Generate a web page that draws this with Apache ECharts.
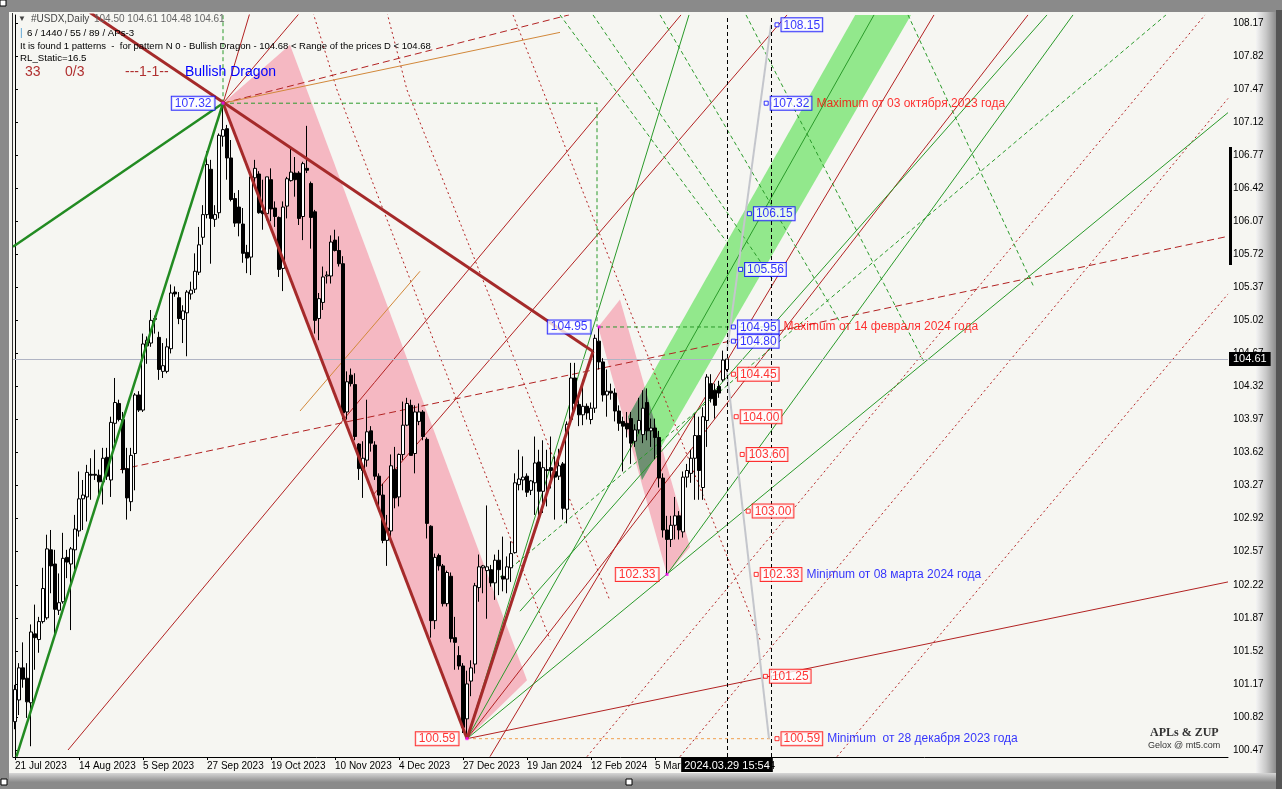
<!DOCTYPE html>
<html><head><meta charset="utf-8">
<script src="https://cdn.jsdelivr.net/npm/echarts/dist/echarts.min.js"></script>
<style>html,body{margin:0;padding:0;background:#8a8a8a;overflow:hidden}#c{width:1282px;height:789px}</style>
</head><body><div id="c"></div><script>
// ---------- DATA ----------
const tickBars = [0,16,32,48,64,80,96,112,128,144,160,176];
const tickLabels = ['21 Jul 2023','14 Aug 2023','5 Sep 2023','27 Sep 2023','19 Oct 2023','10 Nov 2023','4 Dec 2023','27 Dec 2023','19 Jan 2024','12 Feb 2024','5 Mar 2024','27 Mar 2024'];
const priceTicks = [100.47,100.82,101.17,101.52,101.87,102.22,102.57,102.92,103.27,103.62,103.97,104.32,104.67,105.02,105.37,105.72,106.07,106.42,106.77,107.12,107.47,107.82,108.17];
// [open, close, low, high] per daily bar
const ohlc = [
[100.77,101.11,100.69,101.16],[101.00,101.34,100.84,101.39],[101.34,101.22,101.13,101.61],[101.23,100.98,100.81,101.39],
[100.97,101.72,100.51,101.80],[101.70,101.66,101.32,102.01],[101.64,101.83,101.50,101.88],[101.83,102.18,101.81,102.40],
[101.87,102.60,101.85,102.75],[102.59,102.42,102.13,102.80],[102.44,101.96,101.69,102.59],[101.95,102.03,101.90,102.34],
[102.04,102.50,102.02,102.77],[102.51,102.46,102.29,102.59],[102.44,102.60,101.74,102.62],[102.59,102.81,102.38,102.96],
[102.79,103.13,102.73,103.42],[103.13,103.17,102.80,103.33],[103.15,103.41,102.89,103.49],[103.39,103.38,103.12,103.56],
[103.39,103.38,103.33,103.65],[103.38,103.31,103.15,103.44],[103.31,103.56,103.07,103.67],[103.57,103.37,103.33,103.67],
[103.33,103.94,103.15,104.00],[103.93,104.15,103.72,104.41],[104.14,103.97,103.95,104.18],[103.97,103.44,103.40,104.05],
[103.45,103.14,102.91,103.67],[103.10,103.59,103.00,103.67],[103.61,104.23,103.22,104.25],[104.23,104.07,104.05,104.27],
[104.07,104.77,104.05,104.88],[104.75,104.81,104.56,104.85],[104.78,105.02,104.74,105.13],[105.03,105.04,104.88,105.07],
[104.84,104.50,104.39,104.90],[104.48,104.54,104.41,104.78],[104.48,104.74,104.46,104.83],[104.72,105.31,104.67,105.40],
[105.32,105.30,105.27,105.38],[105.26,105.04,104.98,105.32],[105.03,105.12,104.78,105.18],[105.10,105.32,104.64,105.34],
[105.30,105.34,105.24,105.43],[105.35,105.54,105.31,105.73],[105.53,105.82,105.50,106.01],[105.90,106.14,105.82,106.24],
[106.14,106.67,106.10,106.81],[106.62,106.10,105.62,106.72],[106.09,106.14,106.01,106.24],[106.16,106.98,106.10,107.00],
[106.97,107.04,106.86,107.32],[107.05,106.74,106.51,107.09],[106.74,106.30,106.28,106.93],[106.31,106.05,106.01,106.37],
[106.22,106.05,105.91,106.40],[106.04,105.73,105.63,106.21],[105.74,105.68,105.52,105.82],[105.69,106.54,105.50,106.56],
[106.53,106.63,106.46,106.72],[106.57,106.16,106.15,106.60],[106.18,106.15,105.98,106.51],[106.15,106.54,106.08,106.54],
[106.51,106.20,106.07,106.63],[106.21,106.12,106.01,106.28],[106.11,105.56,105.48,106.12],[105.57,106.22,105.33,106.28],
[106.23,106.52,106.10,106.54],[106.50,106.59,106.49,106.84],[106.58,106.51,106.33,106.75],[106.58,106.10,106.03,106.60],
[106.12,106.68,105.87,106.70],[106.63,106.61,106.58,107.08],[106.47,106.11,105.78,106.49],[106.17,105.02,104.88,106.19],
[105.04,105.25,104.81,105.31],[105.21,105.48,105.13,105.59],[105.49,105.50,105.41,105.54],[105.49,105.85,105.41,105.92],
[105.87,105.76,105.75,105.98],[105.76,105.62,105.59,105.91],[105.62,104.04,103.97,105.70],[104.05,104.37,103.97,104.48],
[104.44,104.35,104.32,104.51],[104.34,103.79,103.75,104.46],[103.71,103.45,103.33,103.72],[103.43,103.56,103.14,103.74],
[103.54,103.84,103.47,104.18],[103.85,103.72,103.63,103.90],[103.70,103.37,103.33,103.74],[103.37,103.17,103.05,103.40],
[103.17,102.69,102.66,103.29],[102.69,102.82,102.42,102.96],[102.79,103.48,102.69,103.60],[103.44,103.14,103.03,103.68],
[103.15,103.60,103.05,103.61],[103.60,103.91,103.54,104.16],[103.91,104.14,103.90,104.20],[104.12,103.59,103.59,104.18],
[103.61,104.05,103.40,104.12],[103.95,104.05,103.91,104.14],[104.05,103.79,103.75,104.07],[103.76,102.87,102.71,103.78],
[102.84,101.84,101.66,102.85],[101.84,102.51,101.75,102.55],[102.53,102.42,102.37,102.55],[102.42,102.02,101.99,102.44],
[102.02,102.35,101.99,102.37],[102.31,101.65,101.61,102.35],[101.66,101.61,101.32,101.88],[101.47,101.36,101.32,101.57],
[101.36,100.71,100.65,101.39],[100.80,101.17,100.59,101.31],[101.20,101.34,101.04,101.42],[101.38,102.21,101.28,102.24],
[102.19,102.41,102.04,102.54],[102.40,102.42,102.13,102.43],[102.37,102.41,101.86,103.06],[102.38,102.24,102.20,102.43],
[102.24,102.48,102.06,102.54],[102.48,102.38,102.11,102.59],[102.31,102.28,102.15,102.73],[102.28,102.41,102.13,102.52],
[102.40,102.55,102.25,102.68],[102.56,103.30,102.55,103.40],[103.28,103.34,103.22,103.65],[103.33,103.36,103.22,103.58],
[103.37,103.20,103.15,103.40],[103.22,103.32,103.17,103.33],[103.30,103.51,102.96,103.79],[103.52,103.21,102.94,103.65],
[103.21,103.46,102.98,103.75],[103.43,103.44,103.05,103.65],[103.46,103.43,103.24,103.79],[103.42,103.36,102.91,103.58],
[103.37,103.48,103.33,103.66],[103.50,103.03,102.91,103.52],[103.02,103.92,102.87,103.95],[103.97,104.41,103.93,104.57],
[104.41,104.14,104.11,104.57],[104.13,104.02,103.90,104.18],[104.02,104.11,103.91,104.39],[104.11,104.04,103.97,104.14],
[103.97,104.09,103.92,104.15],[104.09,104.83,104.04,104.87],[104.80,104.58,104.50,104.95],[104.58,104.23,104.16,104.62],
[104.23,104.27,104.00,104.50],[104.27,104.25,104.18,104.35],[104.25,104.06,103.95,104.30],[104.06,103.93,103.85,104.12],
[103.95,103.90,103.42,104.00],[103.93,103.87,103.78,104.05],[103.98,103.72,103.50,104.05],[103.74,103.86,103.68,103.92],
[103.86,103.96,103.82,104.20],[103.81,104.09,103.72,104.28],[104.15,103.85,103.75,104.30],[103.85,103.88,103.68,103.98],
[103.88,103.78,103.55,103.98],[103.78,103.35,103.25,103.85],[103.35,102.80,102.72,103.40],[102.80,102.70,102.33,102.95],
[102.70,102.85,102.62,102.95],[102.85,102.95,102.70,103.15],[102.95,102.80,102.70,103.00],[102.78,103.36,102.72,103.42],
[103.36,103.43,103.25,103.50],[103.40,103.56,103.30,103.65],[103.56,103.80,103.12,104.03],[103.80,103.43,103.12,104.00],
[103.25,104.00,103.12,104.10],[103.96,104.42,103.68,104.45],[104.35,104.19,104.15,104.45],[104.28,104.12,103.98,104.35],
[104.32,104.25,104.20,104.38],[104.39,104.60,104.37,104.70],[104.50,104.61,104.48,104.61]
];
const lastPrice = 104.61;
const lastBar = 178, futureBar = 189;
// pattern pivots (bar index, price)
const pivotBars = [52,113,146,163];
const pivotPrices = [107.32,100.59,104.95,102.33];
// price level boxes on the right (bar anchor, price)
const levelPrices = [108.15,107.32,106.15,105.56,104.95,104.80,104.45,104.00,103.60,103.00,102.33,101.25,100.59];
const levelBars   = [190.5,187.8,183.6,181.4,179.6,179.6,179.6,180.3,181.8,183.3,185.3,187.6,190.5];
const levelNotes = {'107.32':'Maximum от 03 октября 2023 года','104.95':'Maximum от 14 февраля 2024 года','102.33':'Minimum от 08 марта 2024 года','100.59':'Minimum  от 28 декабря 2023 года'};
// filled zones (bar, price vertices)
const pinkZones = [
  [[52,107.32],[68.75,107.94],[128,101.21],[113,100.59]],
  [[145.8,104.95],[151.25,105.24],[168.75,102.62],[163,102.33]]
];
const greenZone = [[153.25,104.00],[212,108.40],[226,108.40],[156.75,103.33]];
// analysis lines (bar, price)
const thickRedLines = [
  [[18.75,108.28],[144.5,104.69]],
  [[52,107.32],[113,100.59]],
  [[113,100.59],[144.5,104.69]]
];
const thickGreenLines = [
  [[0.35,100.40],[52,107.32]],
  [[-0.5,105.80],[52,107.32]]
];
const redSolidLines = [
  [[13.25,100.47],[166.5,108.255]],
  [[89.5,103.17],[193,108.255]],
  [[113,100.59],[253.25,108.255]],
  [[118.75,100.40],[229.75,108.255]],
  [[113,100.59],[303.25,102.25]],
  [[52,107.32],[58.75,108.28]],
  [[52,107.32],[71.25,108.28]]
];
const redDashedLines = [
  [[26.25,103.44],[303.25,105.91]],
  [[52,107.32],[138.5,108.255]]
];
const redDottedLines = [
  [[74.5,108.28],[80.5,107.46],[113.75,103.81],[133.75,101.64]],
  [[93,108.28],[98,107.46],[123,104.81],[143.75,102.58],[148.75,102.05]],
  [[124.5,108.255],[186.25,101.64]],
  [[143,100.40],[297.5,108.255]],
  [[166.25,100.40],[303.25,107.37]],
  [[205.5,100.40],[303.25,105.30]]
];
const greenDashedLines = [
  [[52,107.32],[145.5,107.32],[145.5,104.95]],
  [[146,104.95],[189,104.95]],
  [[52,107.32],[52,108.30]],
  [[121.25,102.30],[287.75,108.255]],
  [[136.25,108.255],[177.75,105.86]],
  [[144.5,108.255],[189.75,105.43]],
  [[161.25,108.255],[206.25,105.00]],
  [[182.75,108.255],[227.5,104.56]],
  [[223.25,108.255],[254.75,105.37]]
];
const greenSolidLines = [
  [[113,100.59],[168.5,108.255]],
  [[113,100.59],[214.75,108.255]],
  [[113,100.59],[303.25,107.22]],
  [[163,102.33],[264.5,108.255]],
  [[126.25,101.94],[258,108.255]]
];
const orangeLines = [ [[52,107.32],[136.25,108.07]], [[71.25,104.06],[101.25,105.54]] ];
const orangeDashedLines = [ [[113,100.59],[189,100.59]] ];
const grayLines = [ [[178,104.70],[189,108.15]], [[178,104.47],[188.5,100.59]] ];
// level tags along lines: [text, bar, price, rotation, colour key]
const tagTexts = [
 ['RL 100.0',190,107.78,-72,'g'],['RL 61.8',174.25,106.72,-70,'g'],['RL 38.2',164.25,106.0,-70,'g'],['RL 23.6',159,105.55,-70,'g'],
 ['161.8',225.5,108.04,-70,'g'],['L 61.8',252.75,108.04,-62,'r'],['LWL 100.0',233.25,101.9,50,'r'],['LWL 61.8',187.75,101.42,50,'r'],
 ['LWL 38.2',160,101.23,50,'r'],['61.8',126,108.10,-70,'r'],['100.0',174,107.99,-75,'g'],['38.2',95.25,108.02,-72,'r'],
 ['23.6',76.75,107.65,-72,'r'],['61.8',77.5,104.97,48,'o'],['38.2',91.25,103.44,48,'o'],['LWL 0.0',147,105.18,-62,'g'],
 ['RL 61.8',153,103.95,-70,'y'],['LWL 0.0',164,102.55,-70,'y']
];

// ---------- CHART ----------
const FONT = 'Liberation Sans';
const chart = echarts.init(document.getElementById('c'));
const candleData = ohlc.map((d,i)=>[i,d[0],d[1],d[2],d[3]]);

function lineSeries(segs, color, width, type, z){
  return segs.map(pts=>({type:'line', data:pts, symbol:'none', silent:true, animation:false, z:z||4,
    lineStyle:{color:color, width:width, type:type||'solid'}, clip:true}));
}
function polySeries(polys, color, z){
  return {type:'custom', z:z, silent:true, animation:false, clip:true,
    data: polys.map((p,i)=>[i]),
    renderItem:function(params, api){
      const poly = polys[params.dataIndex];
      return {type:'polygon', shape:{points: poly.map(v=>api.coord(v))}, style:{fill:color}};
    }};
}
function clipPoly(subject, clip){
  let area=0; for(let i=0;i<clip.length;i++){const a=clip[i],b=clip[(i+1)%clip.length]; area+=a[0]*b[1]-b[0]*a[1];}
  const s = area>0?1:-1;
  let out = subject;
  for(let i=0;i<clip.length;i++){
    const A=clip[i], B=clip[(i+1)%clip.length];
    const inside = p => s*((B[0]-A[0])*(p[1]-A[1])-(B[1]-A[1])*(p[0]-A[0]))>=0;
    const inter = (P,Q)=>{const a1=B[1]-A[1], b1=A[0]-B[0], c1=a1*A[0]+b1*A[1];
      const a2=Q[1]-P[1], b2=P[0]-Q[0], c2=a2*P[0]+b2*P[1]; const d=a1*b2-a2*b1;
      return [(b2*c1-b1*c2)/d,(a1*c2-a2*c1)/d];};
    const inp=out; out=[];
    for(let j=0;j<inp.length;j++){
      const P=inp[j], Q=inp[(j+1)%inp.length];
      const pi=inside(P), qi=inside(Q);
      if(pi){ out.push(P); if(!qi) out.push(inter(P,Q)); }
      else if(qi){ out.push(inter(P,Q)); }
    }
    if(!out.length) break;
  }
  return out;
}
const tagColor = {g:'#3c9a3c', r:'#b22222', o:'#d08a30', y:'#a8c030'};

const series = [];
series.push(polySeries(pinkZones, '#f5b8c2', 1));
series.push(polySeries([greenZone], '#92e88c', 1.2));
series.push({type:'custom', z:1.4, silent:true, animation:false, clip:true, data:[[0]],
  renderItem:function(params, api){
    const g = greenZone.map(v=>api.coord(v)), p = pinkZones[1].map(v=>api.coord(v));
    const pts = clipPoly(g, p);
    return {type:'polygon', shape:{points:pts}, style:{fill:'#6f9072'}};
  }});
series.push(...lineSeries(redSolidLines,'#b22222',1,'solid',2));
series.push(...lineSeries(redDashedLines,'#b22222',1,[7,4],2));
series.push(...lineSeries(redDottedLines,'#b22222',1,[2,3],2));
series.push(...lineSeries(greenSolidLines,'#2a9a2a',1,'solid',2));
series.push(...lineSeries(greenDashedLines,'#2a9a2a',1,[4,3],2));
series.push(...lineSeries(orangeLines,'#d2883a',1,'solid',2));
series.push(...lineSeries(orangeDashedLines,'#f0a050',1,[3,3],2));
series.push(...lineSeries(grayLines,'#c4c6cc',2,'solid',2));
series.push({
  type:'candlestick', z:5, animation:false, silent:true, barWidth:3,
  data:candleData, encode:{x:0,y:[1,2,3,4]},
  itemStyle:{color:'#ffffff', color0:'#000000', borderColor:'#000000', borderColor0:'#000000', borderColorDoji:'#000000', borderWidth:1},
  markLine:{symbol:'none', silent:true, animation:false, precision:2,
    data:[
      {yAxis:lastPrice, lineStyle:{color:'#b0b4c4', type:'solid', width:1},
        label:{show:true, position:'end', distance:1, formatter:lastPrice.toFixed(2), backgroundColor:'#000', color:'#fff', padding:[2,4,1,4], fontFamily:FONT, fontSize:11}},
      {xAxis:lastBar, lineStyle:{color:'#000', type:[4,3], width:1},
        label:{show:true, position:'start', distance:1, formatter:'2024.03.29 15:54', backgroundColor:'#000', color:'#fff', padding:[2,3,1,3], fontFamily:FONT, fontSize:11}},
      {xAxis:futureBar, lineStyle:{color:'#000', type:[4,3], width:1}, label:{show:false}}
    ]}
});
series.push(...lineSeries(thickRedLines,'#a52a2a',3,'solid',6));
series.push(...lineSeries(thickGreenLines,'#228b22',2.5,'solid',6));
// pivot boxes
series.push({type:'scatter', z:8, silent:true, animation:false, symbol:'rect', symbolSize:3,
  itemStyle:{color:'#ff00ff'},
  data: pivotBars.map((b,i)=>({value:[b,pivotPrices[i]], label:{show:true, position:'left', distance:7,
    formatter:pivotPrices[i].toFixed(2), fontFamily:FONT, fontSize:12, color: i%2===0?'#0000ff':'#ff0000',
    borderColor: i%2===0?'#0000ff':'#ff0000', borderWidth:1, backgroundColor:'#ffffff', padding:[1,3,0,3]}}))
});
// right level boxes
series.push({type:'scatter', z:8, silent:true, animation:false, symbol:'rect', symbolSize:4,
  data: levelPrices.map((p,i)=>{
    const blue = p>=104.8; const key=p.toFixed(2); const note=levelNotes[key];
    const c = blue?'#0000ff':'#ff0000';
    const nc = note && note.indexOf('Maximum')===0 ? '#ff0000' : '#0000ff';
    return {value:[levelBars[i],p], itemStyle:{color:'#fff', borderColor:c, borderWidth:1},
      label:{show:true, position:'right', distance:2, fontFamily:FONT,
        formatter: note? ('{b|'+key+'}{n|'+note+'}') : ('{b|'+key+'}'),
        rich:{ b:{color:c, borderColor:c, borderWidth:1, backgroundColor:'#fff', padding:[1,2,0,2], fontSize:12, fontFamily:FONT},
               n:{color:nc, fontSize:12, fontFamily:FONT, padding:[0,0,0,5]} }}};
  })
});
// rotated tags
series.push({type:'scatter', z:7, silent:true, animation:false, symbol:'none',
  data: tagTexts.map(t=>({value:[t[1],t[2]], label:{show:true, position:'inside', formatter:t[0], rotate:t[3], color:tagColor[t[4]], fontSize:10, fontFamily:FONT}}))
});
series.push({type:'scatter', z:7, silent:true, animation:false, symbol:'none',
  data:[{value:[131.25,102.70], label:{show:true, position:'inside', formatter:'1/2 ML', color:'#9ec43a', fontSize:13, fontFamily:FONT}},
        {value:[26.5,103.38], label:{show:true, position:'inside', formatter:'1/2 M', color:'#d86878', fontSize:12, fontFamily:FONT}}]
});

const option = {
  backgroundColor:'transparent',
  animation:false,
  graphic:[
    {type:'rect', z:-10, silent:true, shape:{x:9,y:12,width:1247,height:761}, style:{fill:'#f6f6f2'}},
    {type:'rect', z:-9, silent:true, shape:{x:1256,y:12,width:20,height:763}, style:{fill:new echarts.graphic.LinearGradient(0,0,1,0,[{offset:0,color:'#f4f4f4'},{offset:0.5,color:'#c8c8c8'},{offset:1,color:'#8c8c8c'}])}},
    {type:'rect', z:-9, silent:true, shape:{x:9,y:773,width:1267,height:9}, style:{fill:new echarts.graphic.LinearGradient(0,0,0,1,[{offset:0,color:'#d6d6d6'},{offset:1,color:'#8c8c8c'}])}},
    {type:'rect', z:-9, silent:true, shape:{x:1276,y:10,width:6,height:779}, style:{fill:'#555'}},
    {type:'rect', z:-8, silent:true, shape:{x:0,y:0,width:6,height:6}, style:{fill:'#fff', stroke:'#000'}},
    {type:'rect', z:-8, silent:true, shape:{x:1,y:779,width:6,height:6}, style:{fill:'#fff', stroke:'#000'}},
    {type:'rect', z:-8, silent:true, shape:{x:626,y:779,width:6,height:6}, style:{fill:'#fff', stroke:'#000'}},
    {type:'line', z:-8, silent:true, shape:{x1:12.5,y1:13,x2:12.5,y2:757}, style:{stroke:'#333', lineWidth:1}},
    {type:'rect', z:20, silent:true, shape:{x:1229,y:147,width:3,height:118}, style:{fill:'#000'}},
    {type:'text', z:20, silent:true, x:18, y:19, style:{text:'▼', font:'8px '+FONT, fill:'#444', verticalAlign:'middle'}},
    {type:'text', z:20, silent:true, x:31, y:19, style:{text:'#USDX,Daily', font:'10px '+FONT, fill:'#444', verticalAlign:'middle'}},
    {type:'text', z:20, silent:true, x:94, y:19, style:{text:'104.50 104.61 104.48 104.61', font:'10px '+FONT, fill:'#666', verticalAlign:'middle'}},
    {type:'text', z:20, silent:true, x:20, y:33, style:{text:'|', font:'10px '+FONT, fill:'#4a9ad0', verticalAlign:'middle'}},
    {type:'text', z:20, silent:true, x:27, y:33, style:{text:'6 / 1440 / 55 / 89 / APs-3', font:'9.7px '+FONT, fill:'#000', verticalAlign:'middle'}},
    {type:'text', z:20, silent:true, x:20, y:46, style:{text:'It is found 1 patterns  -  for pattern N 0 - Bullish Dragon - 104.68 < Range of the prices D < 104.68', font:'9.5px '+FONT, fill:'#000', verticalAlign:'middle'}},
    {type:'text', z:20, silent:true, x:20, y:58, style:{text:'RL_Static=16.5', font:'9.7px '+FONT, fill:'#000', verticalAlign:'middle'}},
    {type:'text', z:20, silent:true, x:25, y:72, style:{text:'33', font:'14px '+FONT, fill:'#b03030', verticalAlign:'middle'}},
    {type:'text', z:20, silent:true, x:65, y:72, style:{text:'0/3', font:'14px '+FONT, fill:'#b03030', verticalAlign:'middle'}},
    {type:'text', z:20, silent:true, x:125, y:72, style:{text:'---1-1--', font:'14px '+FONT, fill:'#b03030', verticalAlign:'middle'}},
    {type:'text', z:20, silent:true, x:185, y:72, style:{text:'Bullish Dragon', font:'14px '+FONT, fill:'#0000ff', verticalAlign:'middle'}},
    {type:'text', z:20, silent:true, x:1150, y:733, style:{text:'APLs & ZUP', font:'bold 12px "Liberation Serif"', fill:'#333', verticalAlign:'middle'}},
    {type:'text', z:20, silent:true, x:1148, y:746, style:{text:'Gelox @ mt5.com', font:'9px '+FONT, fill:'#333', verticalAlign:'middle'}}
  ],
  grid:{left:13, right:54, top:15, bottom:32, containLabel:false},
  xAxis:{type:'value', min:-0.5, max:303.25,
    axisLine:{show:true, onZero:false, lineStyle:{color:'#000', width:1}},
    axisTick:{show:true, length:3, customValues:tickBars, lineStyle:{color:'#000'}},
    axisLabel:{show:true, customValues:tickBars, align:'left', margin:4, color:'#000', fontFamily:FONT, fontSize:10,
      formatter:v=>{const k=tickBars.indexOf(Math.round(v)); return k>=0?tickLabels[k]:'';}},
    splitLine:{show:false}},
  yAxis:{type:'value', position:'right', min:100.396, max:108.254, scale:true,
    axisLine:{show:true, lineStyle:{color:'#000', width:1}},
    axisTick:{show:true, length:3, customValues:priceTicks, lineStyle:{color:'#000'}},
    axisLabel:{show:true, customValues:priceTicks, margin:5, color:'#000', fontFamily:FONT, fontSize:10, formatter:v=>v.toFixed(2)},
    splitLine:{show:false}},
  series:series
};
chart.setOption(option);
</script></body></html>
